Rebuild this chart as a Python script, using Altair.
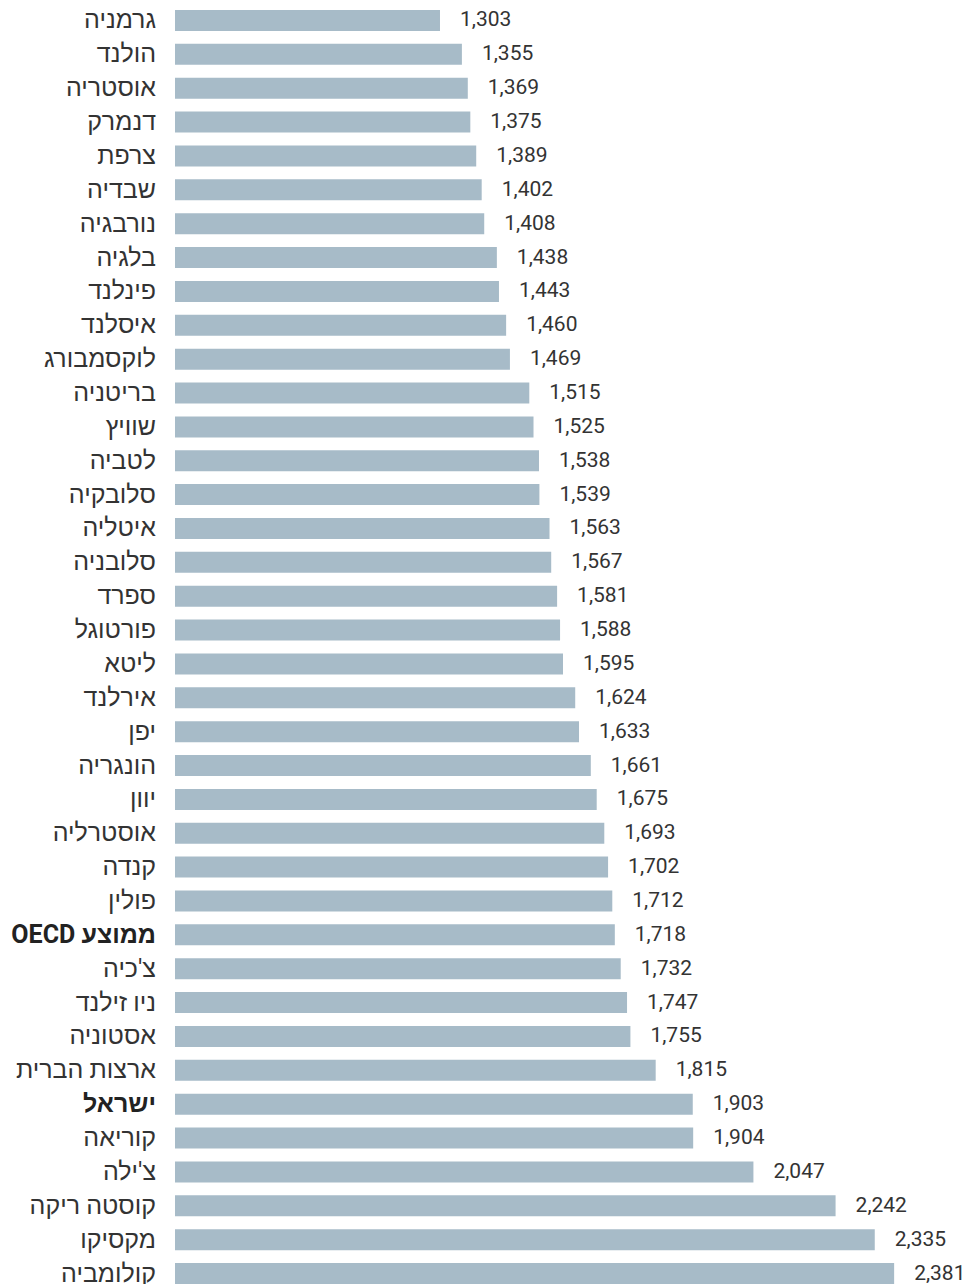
import altair as alt
import pandas as pd

countries = [
    "גרמניה", "הולנד", "אוסטריה", "דנמרק", "צרפת", "שבדיה", "נורבגיה", "בלגיה",
    "פינלנד", "איסלנד", "לוקסמבורג", "בריטניה", "שוויץ", "לטביה", "סלובקיה",
    "איטליה", "סלובניה", "ספרד", "פורטוגל", "ליטא", "אירלנד", "יפן", "הונגריה",
    "יוון", "אוסטרליה", "קנדה", "פולין", "ממוצע OECD", "צ'כיה", "ניו זילנד",
    "אסטוניה", "ארצות הברית", "ישראל", "קוריאה", "צ'ילה", "קוסטה ריקה",
    "מקסיקו", "קולומביה",
]
values = [
    1303, 1355, 1369, 1375, 1389, 1402, 1408, 1438, 1443, 1460, 1469, 1515,
    1525, 1538, 1539, 1563, 1567, 1581, 1588, 1595, 1624, 1633, 1661, 1675,
    1693, 1702, 1712, 1718, 1732, 1747, 1755, 1815, 1903, 1904, 2047, 2242,
    2335, 2381,
]
highlight = ["ישראל", "ממוצע OECD"]

df = pd.DataFrame({"country": countries, "value": values})
df["bold"] = df["country"].isin(highlight)

FONT = "Roboto, Liberation Sans, Arial, sans-serif"

y = alt.Y("country:N", sort=countries, axis=None,
          scale=alt.Scale(paddingInner=0.38, paddingOuter=0))
xs = alt.Scale(domain=[674, 2478], zero=False, nice=False)

base = alt.Chart(df)

bars = base.mark_bar(color="#a7bbc8").encode(
    x=alt.X("value:Q", scale=xs, axis=None, stack=None),
    x2=alt.value(0),
    y=y,
)

vals = base.mark_text(align="left", baseline="middle", dx=20, fontSize=21,
                      font=FONT, color="#333333").encode(
    x=alt.X("value:Q", scale=xs, stack=None),
    y=y,
    text=alt.Text("value:Q", format=","),
)

lab_base = base.transform_calculate(
    disp="'\u202b' + datum.country + '\u202c'"
)

labels = lab_base.transform_filter("!datum.bold").mark_text(
    align="right", baseline="middle", fontSize=25, font=FONT, color="#333333"
).encode(x=alt.value(-19), y=y, text="disp:N")

labels_bold = lab_base.transform_filter("datum.bold").mark_text(
    align="right", baseline="middle", fontSize=25, font=FONT, color="#222222",
    fontWeight="bold"
).encode(x=alt.value(-19), y=y, text="disp:N")

chart = alt.layer(bars, vals, labels, labels_bold).properties(
    width=760, height=1274,
    autosize=alt.AutoSizeParams(type="none"),
    padding={"left": 167, "top": 2, "right": 30, "bottom": 0},
).configure_view(stroke=None)

chart.save("out.html", embed_options={"renderer": "svg", "actions": False})
